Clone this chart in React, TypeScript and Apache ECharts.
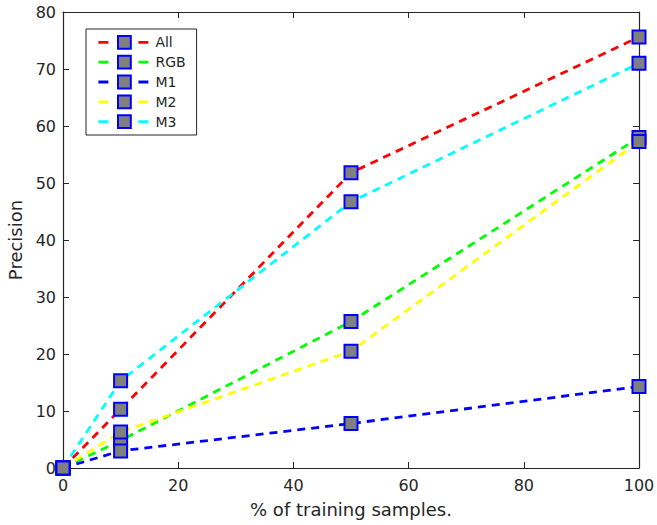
import React, { useEffect, useRef } from "react";
import * as echarts from "echarts";

const xValues = [0, 10, 50, 100];
const seriesNames = ["All", "RGB", "M1", "M2", "M3"];
const allValues = [0, 10.3, 51.8, 75.6];
const rgbValues = [0, 4.8, 25.7, 58.0];
const m1Values = [0, 3.0, 7.8, 14.3];
const m2Values = [0, 6.3, 20.5, 57.3];
const m3Values = [0, 15.3, 46.7, 71.0];
const seriesColors = ["#ff0000", "#00ff00", "#0000ff", "#ffff00", "#00ffff"];
const xTicks = [0, 20, 40, 60, 80, 100];
const yTicks = [0, 10, 20, 30, 40, 50, 60, 70, 80];

const FONT = "DejaVu Sans";
const AXIS_COLOR = "#262626";

export default function App() {
  const ref = useRef<HTMLDivElement>(null);

  useEffect(() => {
    if (!ref.current) return;
    const chart = echarts.init(ref.current, undefined, { renderer: "svg" });
    const valueSets = [allValues, rgbValues, m1Values, m2Values, m3Values];
    const series = seriesNames.map((name, i) => ({
      name,
      type: "line",
      data: xValues.map((x, j) => [x, valueSets[i][j]]),
      symbol: "rect",
      symbolSize: 13,
      showAllSymbol: true,
      clip: false,
      lineStyle: { color: seriesColors[i], width: 2.8, type: [8, 6] },
      itemStyle: { color: "#808080", borderColor: "#0000ff", borderWidth: 2 },
      emphasis: { disabled: true },
    }));
    const axisCommon = {
      axisLine: { show: true, onZero: false, lineStyle: { color: AXIS_COLOR, width: 1.2 } },
      axisTick: { show: true, inside: true, length: 6, lineStyle: { color: AXIS_COLOR, width: 1 } },
      splitLine: { show: false },
    };
    chart.setOption({
      animation: false,
      backgroundColor: "#ffffff",
      grid: {
        left: 63,
        right: 18,
        top: 12,
        bottom: 57,
        containLabel: false,
        outerBoundsMode: "none",
      },
      legend: {
        show: true,
        data: seriesNames,
        orient: "vertical",
        left: 86,
        top: 29,
        padding: [6, 11, 6, 11],
        itemWidth: 52,
        itemHeight: 16,
        itemGap: 5,
        backgroundColor: "#ffffff",
        borderColor: AXIS_COLOR,
        borderWidth: 1,
        lineStyle: { type: [10, 10], width: 2.8 },
        textStyle: { fontFamily: FONT, fontSize: 14, color: AXIS_COLOR, padding: [0, 0, 0, 0] },
        selectedMode: false,
      },
      xAxis: [
        {
          type: "value",
          min: 0,
          max: 100,
          interval: 20,
          name: "% of training samples.",
          nameLocation: "middle",
          nameGap: 32,
          nameTextStyle: { fontFamily: FONT, fontSize: 18, color: AXIS_COLOR },
          axisLabel: {
            fontFamily: FONT,
            fontSize: 16,
            color: AXIS_COLOR,
            margin: 9,
            formatter: (v: number) => (xTicks.includes(v) ? String(v) : ""),
          },
          ...axisCommon,
        },
        {
          type: "value",
          position: "top",
          min: 0,
          max: 100,
          interval: 20,
          axisLabel: { show: false },
          ...axisCommon,
        },
      ],
      yAxis: [
        {
          type: "value",
          min: 0,
          max: 80,
          interval: 10,
          name: "Precision",
          nameLocation: "middle",
          nameGap: 39,
          nameTextStyle: { fontFamily: FONT, fontSize: 18, color: AXIS_COLOR },
          axisLabel: {
            fontFamily: FONT,
            fontSize: 16,
            color: AXIS_COLOR,
            margin: 7,
            formatter: (v: number) => (yTicks.includes(v) ? String(v) : ""),
          },
          ...axisCommon,
        },
        {
          type: "value",
          position: "right",
          min: 0,
          max: 80,
          interval: 10,
          axisLabel: { show: false },
          ...axisCommon,
        },
      ],
      series,
    });
    return () => chart.dispose();
  }, []);

  return (
    <div
      ref={ref}
      style={{ position: "fixed", left: 0, top: 0, width: 657, height: 525, background: "#fff" }}
    />
  );
}
